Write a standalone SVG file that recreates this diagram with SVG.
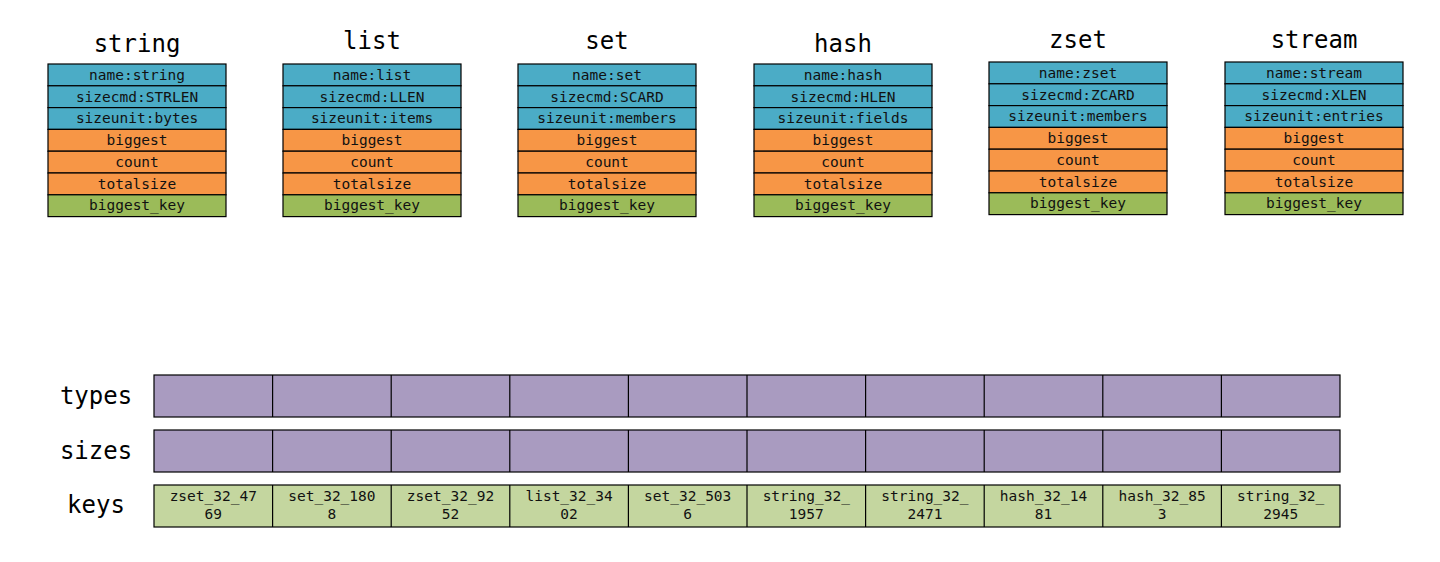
<svg xmlns="http://www.w3.org/2000/svg" width="1440" height="562" viewBox="0 0 1440 562">
<style>
.bg{fill:#ffffff}
.c{stroke:#000;stroke-width:1.2}
.b{fill:#4BACC6}
.o{fill:#F79646}
.g{fill:#9BBB59}
.p{fill:#A99BC0}
.lg{fill:#C4D69F}
.t{font-family:"DejaVu Sans Mono","Liberation Mono",monospace;font-size:14.5px;fill:#111;text-anchor:middle}
.h{font-family:"DejaVu Sans Mono","Liberation Mono",monospace;font-size:24px;fill:#000;text-anchor:middle}
</style>
<rect class="bg" x="0" y="0" width="1440" height="562"/>
<defs>
<g id="tbl">
<rect class="c b" x="0" y="0" width="178" height="21.8"/>
<rect class="c b" x="0" y="21.8" width="178" height="21.8"/>
<rect class="c b" x="0" y="43.6" width="178" height="21.8"/>
<rect class="c o" x="0" y="65.4" width="178" height="21.8"/>
<rect class="c o" x="0" y="87.2" width="178" height="21.8"/>
<rect class="c o" x="0" y="109" width="178" height="21.8"/>
<rect class="c g" x="0" y="130.8" width="178" height="21.8"/>
</g>
<g id="row">
<rect class="c" x="0" y="0" width="1186" height="42"/>
<path class="c" fill="none" d="M118.6 0V42M237.2 0V42M355.8 0V42M474.4 0V42M593 0V42M711.6 0V42M830.2 0V42M948.8 0V42M1067.4 0V42"/>
</g>
</defs>
<g id="node-string">
<text class="h" x="137" y="52">string</text>
<use href="#tbl" x="48" y="64"/>
<text class="t" x="137" y="80">name:string</text>
<text class="t" x="137" y="102">sizecmd:STRLEN</text>
<text class="t" x="137" y="123">sizeunit:bytes</text>
<text class="t" x="137" y="145">biggest</text>
<text class="t" x="137" y="167">count</text>
<text class="t" x="137" y="189">totalsize</text>
<text class="t" x="137" y="210">biggest_key</text>
</g>
<g id="node-list">
<text class="h" x="372" y="49">list</text>
<use href="#tbl" x="283" y="64"/>
<text class="t" x="372" y="80">name:list</text>
<text class="t" x="372" y="102">sizecmd:LLEN</text>
<text class="t" x="372" y="123">sizeunit:items</text>
<text class="t" x="372" y="145">biggest</text>
<text class="t" x="372" y="167">count</text>
<text class="t" x="372" y="189">totalsize</text>
<text class="t" x="372" y="210">biggest_key</text>
</g>
<g id="node-set">
<text class="h" x="607" y="49">set</text>
<use href="#tbl" x="518" y="64"/>
<text class="t" x="607" y="80">name:set</text>
<text class="t" x="607" y="102">sizecmd:SCARD</text>
<text class="t" x="607" y="123">sizeunit:members</text>
<text class="t" x="607" y="145">biggest</text>
<text class="t" x="607" y="167">count</text>
<text class="t" x="607" y="189">totalsize</text>
<text class="t" x="607" y="210">biggest_key</text>
</g>
<g id="node-hash">
<text class="h" x="843" y="52">hash</text>
<use href="#tbl" x="754" y="64"/>
<text class="t" x="843" y="80">name:hash</text>
<text class="t" x="843" y="102">sizecmd:HLEN</text>
<text class="t" x="843" y="123">sizeunit:fields</text>
<text class="t" x="843" y="145">biggest</text>
<text class="t" x="843" y="167">count</text>
<text class="t" x="843" y="189">totalsize</text>
<text class="t" x="843" y="210">biggest_key</text>
</g>
<g id="node-zset">
<text class="h" x="1078" y="48">zset</text>
<use href="#tbl" x="989" y="62"/>
<text class="t" x="1078" y="78">name:zset</text>
<text class="t" x="1078" y="100">sizecmd:ZCARD</text>
<text class="t" x="1078" y="121">sizeunit:members</text>
<text class="t" x="1078" y="143">biggest</text>
<text class="t" x="1078" y="165">count</text>
<text class="t" x="1078" y="187">totalsize</text>
<text class="t" x="1078" y="208">biggest_key</text>
</g>
<g id="node-stream">
<text class="h" x="1314" y="48">stream</text>
<use href="#tbl" x="1225" y="62"/>
<text class="t" x="1314" y="78">name:stream</text>
<text class="t" x="1314" y="100">sizecmd:XLEN</text>
<text class="t" x="1314" y="121">sizeunit:entries</text>
<text class="t" x="1314" y="143">biggest</text>
<text class="t" x="1314" y="165">count</text>
<text class="t" x="1314" y="187">totalsize</text>
<text class="t" x="1314" y="208">biggest_key</text>
</g>
<g id="node-types">
<text class="h" x="96" y="404">types</text>
<use href="#row" x="154" y="375" class="p"/>
</g>
<g id="node-sizes">
<text class="h" x="96" y="459">sizes</text>
<use href="#row" x="154" y="430" class="p"/>
</g>
<g id="node-keys">
<text class="h" x="96" y="513">keys</text>
<use href="#row" x="154" y="485" class="lg"/>
<text class="t" x="213.3" y="501">zset_32_47</text><text class="t" x="213.3" y="519">69</text>
<text class="t" x="331.9" y="501">set_32_180</text><text class="t" x="331.9" y="519">8</text>
<text class="t" x="450.5" y="501">zset_32_92</text><text class="t" x="450.5" y="519">52</text>
<text class="t" x="569.1" y="501">list_32_34</text><text class="t" x="569.1" y="519">02</text>
<text class="t" x="687.7" y="501">set_32_503</text><text class="t" x="687.7" y="519">6</text>
<text class="t" x="806.3" y="501">string_32_</text><text class="t" x="806.3" y="519">1957</text>
<text class="t" x="924.9" y="501">string_32_</text><text class="t" x="924.9" y="519">2471</text>
<text class="t" x="1043.5" y="501">hash_32_14</text><text class="t" x="1043.5" y="519">81</text>
<text class="t" x="1162.1" y="501">hash_32_85</text><text class="t" x="1162.1" y="519">3</text>
<text class="t" x="1280.7" y="501">string_32_</text><text class="t" x="1280.7" y="519">2945</text>
</g>
<g id="connectors"></g>
</svg>
